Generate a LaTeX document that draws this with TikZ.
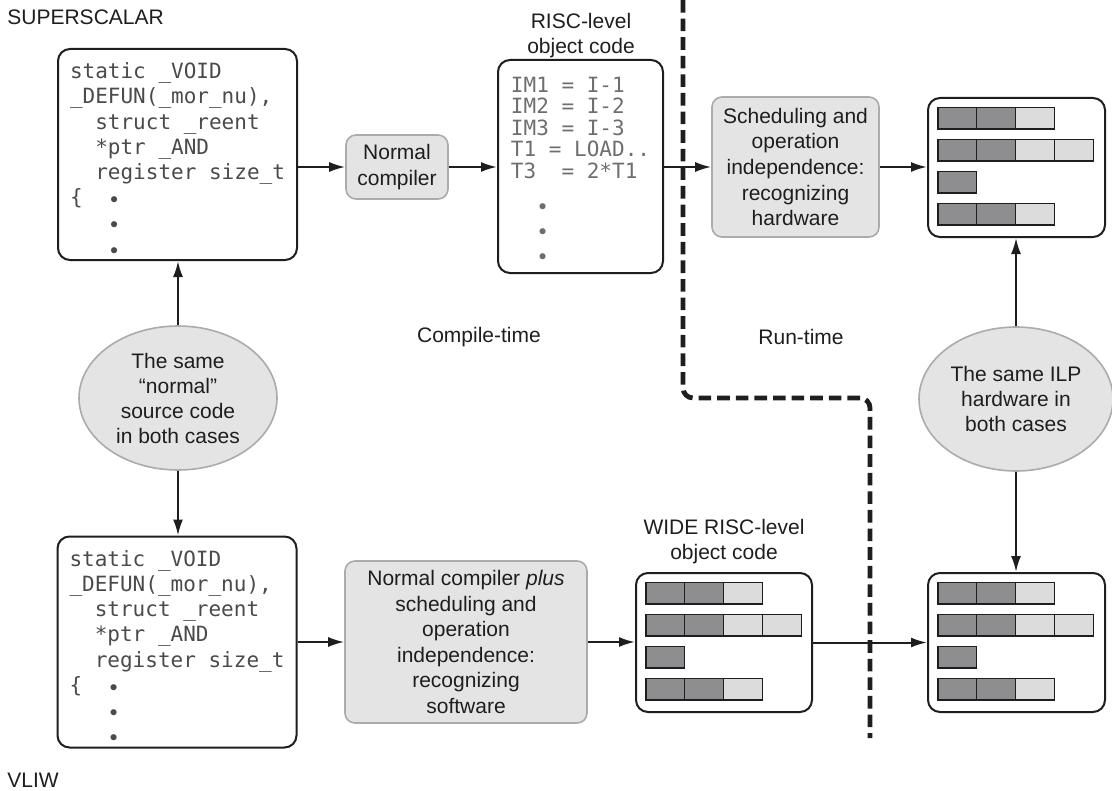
\documentclass[tikz,border=0pt]{standalone}
\usepackage{fontspec}
\setmainfont{Liberation Sans}
\setmonofont{DejaVu Sans Mono}
\usetikzlibrary{arrows.meta,shapes.geometric}
\definecolor{boxgray}{HTML}{E4E4E5}
\definecolor{edgegray}{HTML}{ABABAB}
\definecolor{opdark}{HTML}{8E8E90}
\definecolor{oplight}{HTML}{DCDCDD}
\definecolor{codegray}{HTML}{4A4A4A}
\definecolor{inkgray}{HTML}{1E1E1E}
\newcommand{\dotmark}{\raisebox{-1.5pt}{•}}
\newcommand{\topline}{\rule{0pt}{14pt}}
\tikzset{
  tag/.style={inner sep=0pt, text=inkgray, font=\fontsize{10.5}{12.5}\selectfont},
  codebox/.style={draw=inkgray, line width=1pt, rounded corners=6pt, minimum width=119.5pt, minimum height=105.5pt, align=left, inner sep=0pt, text=codegray, font=\ttfamily\fontsize{10.5}{12.6}\selectfont},
  procbox/.style={draw=edgegray, fill=boxgray, line width=0.8pt, rounded corners=5pt, align=center, inner sep=0pt, text=inkgray, font=\fontsize{10.5}{12.8}\selectfont},
  opbox/.style={draw=inkgray, line width=1pt, rounded corners=6pt, minimum width=88.5pt, minimum height=69.5pt, inner sep=0pt},
  ellbox/.style={ellipse, draw=edgegray, fill=boxgray, line width=0.8pt, minimum height=72pt, align=center, inner sep=0pt, text=inkgray, font=\fontsize{10.5}{12.5}\selectfont},
  opcell/.style={draw=inkgray, line width=0.6pt},
  conn/.style={draw=inkgray, line width=1pt, -{Latex[length=8pt,width=5pt]}},
  divider/.style={draw=inkgray, line width=2.4pt, dash pattern=on 6.3pt off 3pt, rounded corners=5pt}
}
\newcommand{\opcells}[1]{%
  \begin{scope}[shift={(#1.north west)}]
    \foreach \r/\c/\tone in {0/0/opdark,0/1/opdark,0/2/oplight,1/0/opdark,1/1/opdark,1/2/oplight,1/3/oplight,2/0/opdark,3/0/opdark,3/1/opdark,3/2/oplight}
      \draw[opcell, fill=\tone] (11+\c*38.8,10.5+\r*32) rectangle ++(38.8,21.5);
  \end{scope}}
\begin{document}
\begin{tikzpicture}[x=0.5pt,y=-0.5pt]
\useasboundingbox (0,0) rectangle (1112,791);

\node[tag, anchor=west] (superscalar) at (7,17) {SUPERSCALAR};
\node[tag, anchor=west] (vliw) at (7,780) {VLIW};
\node[tag] (ctime) at (479,337) {Compile-time};
\node[tag] (rtime) at (801,337) {Run-time};

\draw[divider] (683,0) -- (683,398) -- (870,398) -- (870,738);

\node[codebox] (src1) at (177.5,154.5) {\topline static \_VOID\\\_DEFUN(\_mor\_nu),\\\hphantom{xx}struct \_reent\\\hphantom{xx}*ptr \_AND\\\hphantom{xx}register size\_t\\\{\hphantom{xx}\dotmark\\\hphantom{xxx}\dotmark\\\hphantom{xxx}\dotmark};
\node[procbox, minimum width=51pt, minimum height=32pt] (ncomp) at (397,167) {Normal\\compiler};
\node[codebox, minimum width=82.5pt, minimum height=106.5pt, text=codegray!80, font=\ttfamily\fontsize{10.5}{10.75}\selectfont] (risc) at (580.5,166.5) {\rule{0pt}{12pt}IM1 = I-1\\IM2 = I-2\\IM3 = I-3\\T1 = LOAD..\\T3\hphantom{x} = 2*T1\\[7.5pt]\hphantom{xx}•\\[1.75pt]\hphantom{xx}•\\[1.75pt]\hphantom{xx}•};
\node[tag, align=center] (risctitle) at (581,36) {RISC-level\\object code};
\node[procbox, minimum width=83.5pt, minimum height=70pt] (sched) at (795.5,167) {Scheduling and\\operation\\independence:\\recognizing\\hardware};
\node[opbox] (hw1) at (1016.5,167.5) {};

\node[ellbox, minimum width=99pt] (same1) at (178,398) {The same\\“normal”\\source code\\in both cases};
\node[ellbox, minimum width=97pt] (same2) at (1016,399) {The same ILP\\hardware in\\both cases};

\node[codebox] (src2) at (177,642) {\topline static \_VOID\\\_DEFUN(\_mor\_nu),\\\hphantom{xx}struct \_reent\\\hphantom{xx}*ptr \_AND\\\hphantom{xx}register size\_t\\\{\hphantom{xx}\dotmark\\\hphantom{xxx}\dotmark\\\hphantom{xxx}\dotmark};
\node[procbox, minimum width=121pt, minimum height=81pt] (ncplus) at (466,642) {Normal compiler \textit{plus}\\scheduling and\\operation\\independence:\\recognizing\\software};
\node[opbox, minimum width=88pt] (wide) at (724,642.5) {};
\node[tag, align=center] (widetitle) at (724,542) {WIDE RISC-level\\object code};
\node[opbox] (hw2) at (1016.5,642.5) {};

\opcells{hw1}
\opcells{wide}
\opcells{hw2}

\draw[conn] (src1.east |- ncomp.west) -- (ncomp.west);
\draw[conn] (ncomp.east) -- (ncomp.east -| risc.west);
\draw[conn] (risc.east |- sched.west) -- (sched.west);
\draw[conn] (sched.east) -- (sched.east -| hw1.west);
\draw[conn] (same1.north) -- (same1.north |- src1.south);
\draw[conn] (same1.south) -- (same1.south |- src2.north);
\draw[conn] (src2.east) -- (src2.east -| ncplus.west);
\draw[conn] (ncplus.east) -- (ncplus.east -| wide.west);
\draw[conn] (wide.east) -- (wide.east -| hw2.west);
\draw[conn] (same2.north) -- (same2.north |- hw1.south);
\draw[conn] (same2.south) -- (same2.south |- hw2.north);
\end{tikzpicture}
\end{document}
